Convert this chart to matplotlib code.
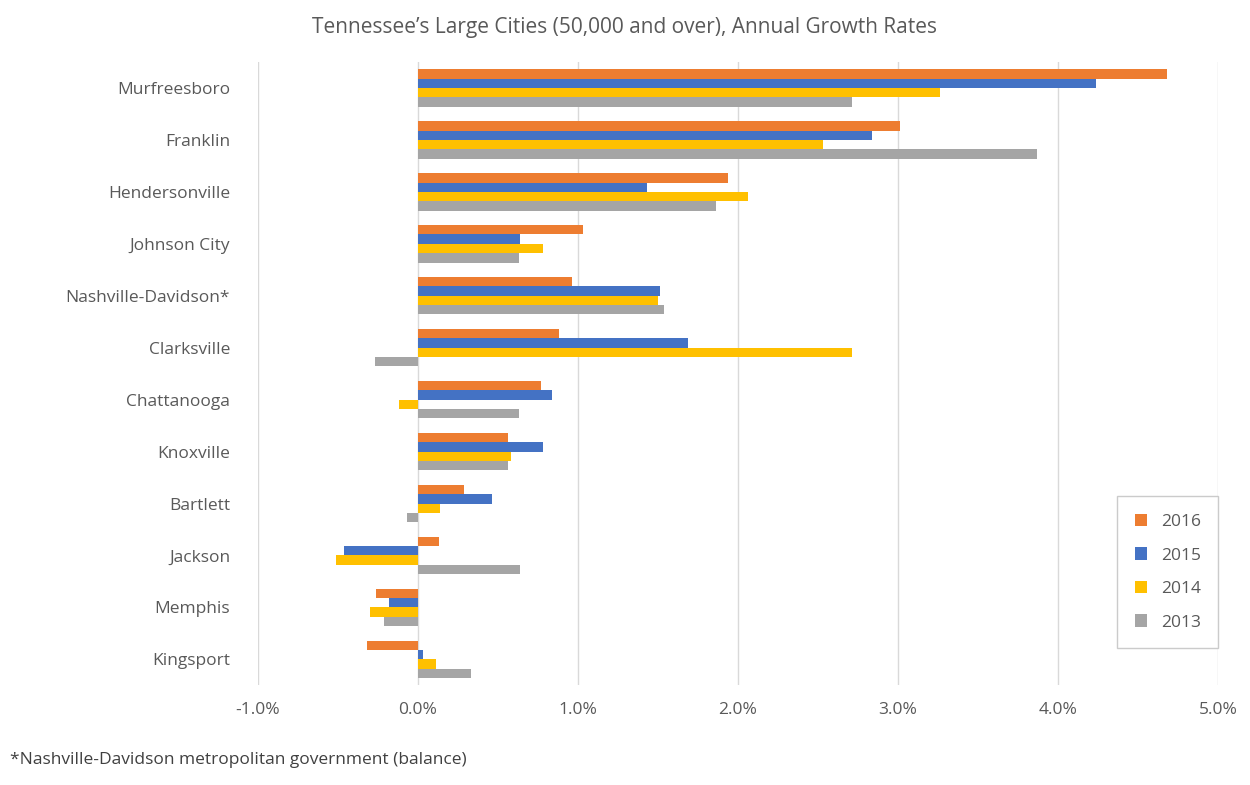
import numpy as np
import matplotlib
matplotlib.use('Agg')
import matplotlib.pyplot as plt
from matplotlib.ticker import FuncFormatter

plt.rcParams['font.family'] = ['Open Sans', 'DejaVu Sans']

cities = ['Murfreesboro', 'Franklin', 'Hendersonville', 'Johnson City', 'Nashville-Davidson*',
          'Clarksville', 'Chattanooga', 'Knoxville', 'Bartlett', 'Jackson', 'Memphis', 'Kingsport']
years = ['2016', '2015', '2014', '2013']
g2016 = [4.68, 3.01, 1.94, 1.03, 0.96, 0.88, 0.77, 0.56, 0.29, 0.13, -0.26, -0.32]
g2015 = [4.24, 2.84, 1.43, 0.64, 1.51, 1.69, 0.84, 0.78, 0.46, -0.46, -0.18, 0.03]
g2014 = [3.26, 2.53, 2.06, 0.78, 1.50, 2.71, -0.12, 0.58, 0.14, -0.51, -0.30, 0.11]
g2013 = [2.71, 3.87, 1.86, 0.63, 1.54, -0.27, 0.63, 0.56, -0.07, 0.64, -0.21, 0.33]
colors = ['#ED7D31', '#4472C4', '#FFC000', '#A5A5A5']

fig = plt.figure(figsize=(12.5, 7.85), dpi=100)
ax = fig.add_axes([0.2064, 0.127, 0.768, 0.794])

y = np.arange(len(cities))
bh = 0.18
for i, (vals, yr) in enumerate(zip([g2016, g2015, g2014, g2013], years)):
    ax.barh(y + (i - 1.5) * bh, vals, height=bh, color=colors[i], label=yr, zorder=3)

ax.set_ylim(len(cities) - 0.5, -0.5)
ax.set_xlim(-1, 5)
ax.set_xticks(np.arange(-1, 5.1, 1))
ax.xaxis.set_major_formatter(FuncFormatter(lambda v, p: f'{v:.1f}%'))
ax.set_yticks(y)
ax.set_yticklabels(cities)
ax.tick_params(length=0, labelsize=12.5, colors='#595959', pad=12)
ax.tick_params(axis='y', pad=180 - 0)
for lab in ax.get_yticklabels():
    lab.set_horizontalalignment('right')
ax.tick_params(axis='y', pad=20)
ax.grid(axis='x', color='#D9D9D9', lw=1, zorder=0)
for s in ax.spines.values():
    s.set_visible(False)

leg = ax.legend(loc='lower right', bbox_to_anchor=(1.0, 0.06), fontsize=12.5, frameon=True,
                fancybox=False, edgecolor='#BFBFBF', labelspacing=1.0, borderpad=1.0,
                handlelength=0.7, handleheight=0.7, borderaxespad=0)
for t in leg.get_texts():
    t.set_color('#595959')

fig.text(0.5, 0.965, 'Tennessee\u2019s Large Cities (50,000 and over), Annual Growth Rates',
         ha='center', va='center', fontsize=15, color='#595959')
fig.text(0.008, 0.032, '*Nashville-Davidson metropolitan government (balance)',
         ha='left', va='center', fontsize=12.5, color='#404040')

fig.savefig('out.png', dpi=100)
